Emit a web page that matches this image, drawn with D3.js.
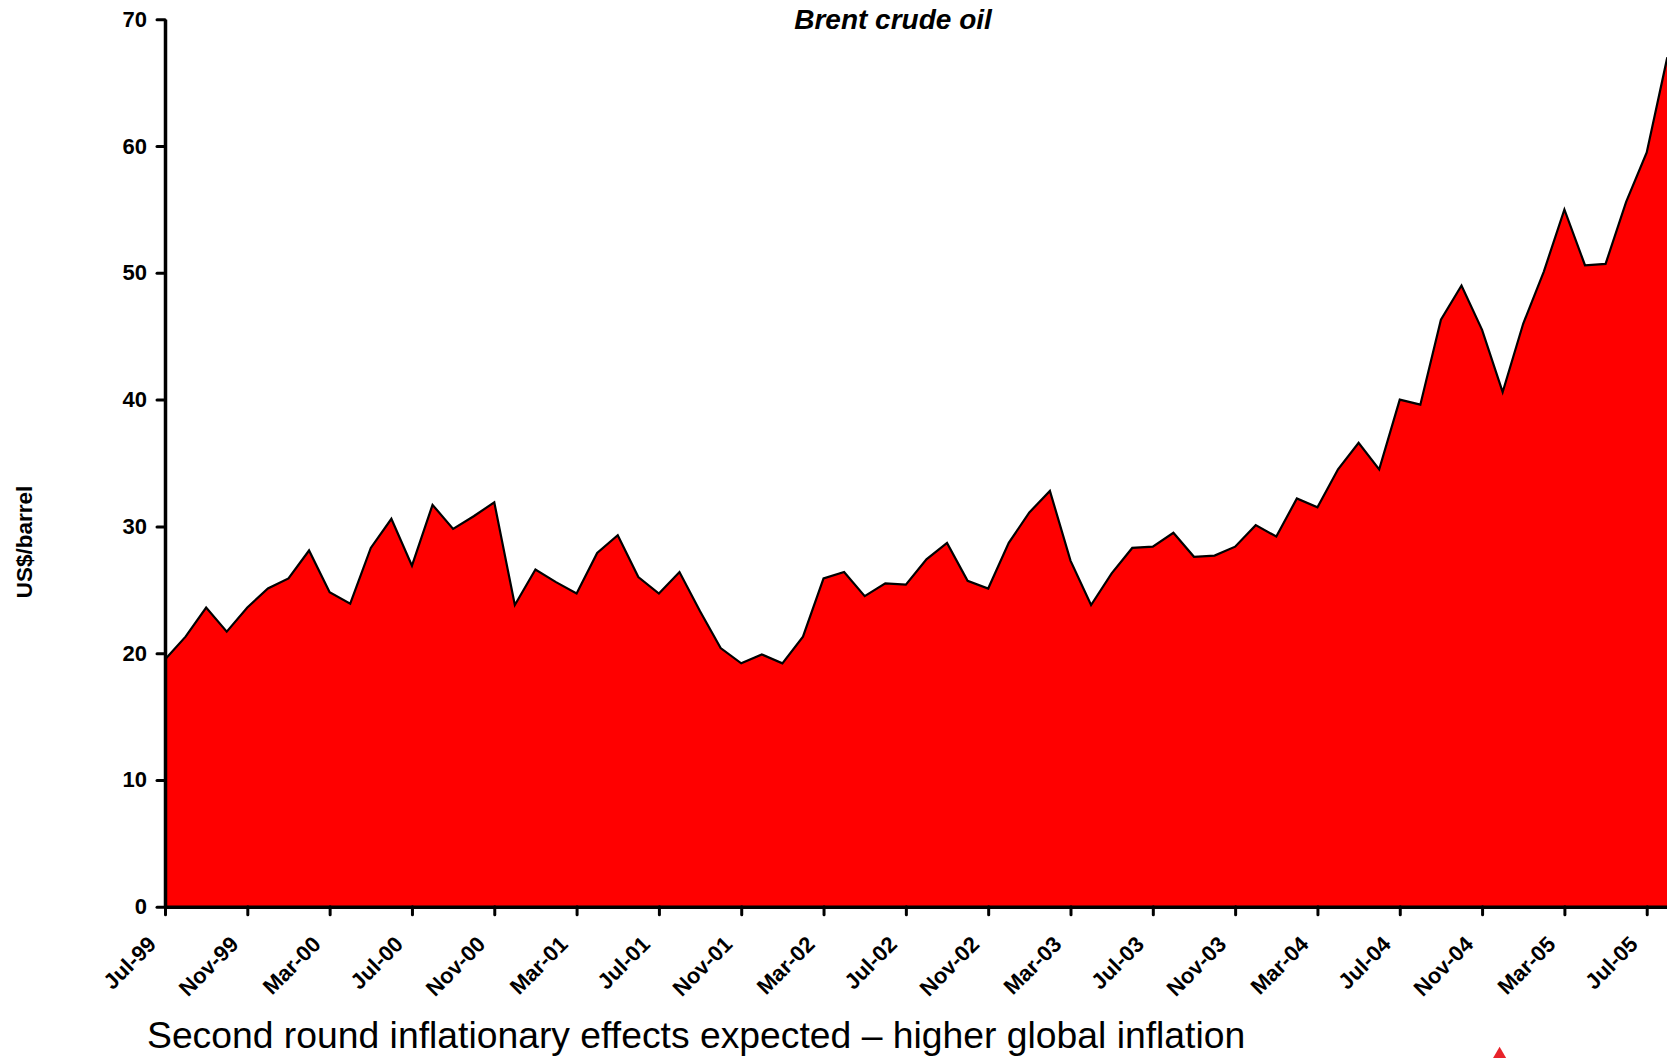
<!DOCTYPE html>
<html>
<head>
<meta charset="utf-8">
<script src="https://cdn.jsdelivr.net/npm/d3@7"></script>
<style>
  html, body { margin: 0; padding: 0; background: #fff; }
  svg { display: block; }
  text { font-family: "Liberation Sans", Arial, Helvetica, sans-serif; fill: #000; }
</style>
</head>
<body>
<svg id="chart" width="1667" height="1058"></svg>
<script>
// Monthly Brent crude oil price, US$/barrel
const months = [
  "Jul-99","Aug-99","Sep-99","Oct-99","Nov-99","Dec-99",
  "Jan-00","Feb-00","Mar-00","Apr-00","May-00","Jun-00","Jul-00","Aug-00","Sep-00","Oct-00","Nov-00","Dec-00",
  "Jan-01","Feb-01","Mar-01","Apr-01","May-01","Jun-01","Jul-01","Aug-01","Sep-01","Oct-01","Nov-01","Dec-01",
  "Jan-02","Feb-02","Mar-02","Apr-02","May-02","Jun-02","Jul-02","Aug-02","Sep-02","Oct-02","Nov-02","Dec-02",
  "Jan-03","Feb-03","Mar-03","Apr-03","May-03","Jun-03","Jul-03","Aug-03","Sep-03","Oct-03","Nov-03","Dec-03",
  "Jan-04","Feb-04","Mar-04","Apr-04","May-04","Jun-04","Jul-04","Aug-04","Sep-04","Oct-04","Nov-04","Dec-04",
  "Jan-05","Feb-05","Mar-05","Apr-05","May-05","Jun-05","Jul-05","Aug-05"
];

const brent = [
  19.5, 21.3, 23.6, 21.7, 23.6, 25.1,
  25.9, 28.1, 24.8, 23.9, 28.3, 30.6, 26.9, 31.7, 29.8, 30.8, 31.9, 23.8,
  26.6, 25.6, 24.7, 27.9, 29.3, 26.0, 24.7, 26.4, 23.3, 20.4, 19.2, 19.9,
  19.2, 21.3, 25.9, 26.4, 24.5, 25.5, 25.4, 27.4, 28.7, 25.7, 25.1, 28.7,
  31.1, 32.8, 27.3, 23.8, 26.3, 28.3, 28.4, 29.5, 27.6, 27.7, 28.4, 30.1,
  29.2, 32.2, 31.5, 34.5, 36.6, 34.5, 40.0, 39.6, 46.3, 49.0, 45.5, 40.6,
  46.0, 50.1, 55.0, 50.6, 50.7, 55.6, 59.5, 67.0
];

const xTickLabels = [
  "Jul-99","Nov-99","Mar-00","Jul-00","Nov-00","Mar-01","Jul-01","Nov-01","Mar-02","Jul-02",
  "Nov-02","Mar-03","Jul-03","Nov-03","Mar-04","Jul-04","Nov-04","Mar-05","Jul-05"
];
const yTickValues = [0, 10, 20, 30, 40, 50, 60, 70];

const chartTitle = "Brent crude oil";
const yAxisTitle = "US$/barrel";
const caption = "Second round inflationary effects expected \u2013 higher global inflation";

const series = months.map((m, i) => ({ month: m, value: brent[i] }));

const svg = d3.select("#chart");

const plotLeft = 165, plotRight = 1667.3, plotTop = 19.3, plotBottom = 906.7;

const x = d3.scalePoint().domain(months).range([plotLeft, plotRight]);
const y = d3.scaleLinear().domain([0, 70]).range([plotBottom, plotTop]);

// filled area with outline
const area = d3.area()
  .x(d => x(d.month))
  .y0(y(0))
  .y1(d => y(d.value));

const line = d3.line()
  .x(d => x(d.month))
  .y(d => y(d.value));

svg.append("path")
  .datum(series)
  .attr("d", area)
  .attr("fill", "#ff0000");

svg.append("path")
  .datum(series)
  .attr("d", line)
  .attr("fill", "none")
  .attr("stroke", "#000")
  .attr("stroke-width", 2.2)
  .attr("stroke-linejoin", "miter");

// y axis
const yAxis = svg.append("g")
  .attr("transform", `translate(${plotLeft},0)`)
  .call(d3.axisLeft(y).tickValues(yTickValues).tickSize(8).tickSizeOuter(0).tickPadding(10));

// x axis
const xAxis = svg.append("g")
  .attr("transform", `translate(0,${plotBottom})`)
  .call(d3.axisBottom(x).tickValues(xTickLabels).tickSize(8).tickSizeOuter(0));

[yAxis, xAxis].forEach(g => {
  g.attr("font-family", null).attr("font-size", null);
  g.select(".domain").attr("stroke", "#000").attr("stroke-width", 3.5);
  g.selectAll(".tick line").attr("stroke", "#000").attr("stroke-width", 3).attr("stroke-linecap", "round");
  g.selectAll(".tick text")
    .style("font-family", "'Liberation Sans', Arial, sans-serif")
    .style("font-weight", "bold")
    .style("font-size", "22px")
    .attr("fill", "#000");
});

xAxis.selectAll(".tick text")
  .attr("x", 0)
  .attr("y", 0)
  .attr("dy", 0)
  .attr("transform", "translate(-8,39) rotate(-45)")
  .style("text-anchor", "end");

// titles
svg.append("text")
  .attr("x", 893)
  .attr("y", 29)
  .attr("text-anchor", "middle")
  .style("font-weight", "bold")
  .style("font-style", "italic")
  .style("font-size", "28px")
  .text(chartTitle);

svg.append("text")
  .attr("transform", "translate(24,542) rotate(-90)")
  .attr("text-anchor", "middle")
  .attr("dy", "0.36em")
  .style("font-weight", "bold")
  .style("font-size", "22.5px")
  .text(yAxisTitle);

svg.append("text")
  .attr("x", 147)
  .attr("y", 1048)
  .style("font-size", "37.3px")
  .text(caption);

// bullet marker below the chart
svg.append("path")
  .attr("d", d3.symbol(d3.symbolTriangle, 333)())
  .attr("transform", "translate(1499.6,1062.7)")
  .attr("fill", "#e8232a");
</script>
</body>
</html>
